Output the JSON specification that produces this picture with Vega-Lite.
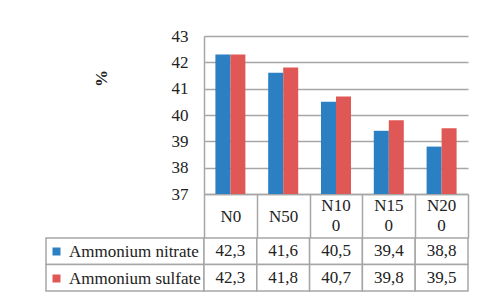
{
  "$schema": "https://vega.github.io/schema/vega-lite/v6.json",
  "padding": {"left": 45, "top": 27, "right": 5, "bottom": 4},
  "background": "white",
  "datasets": {
    "d": [
      {"category": "N0", "series": "Ammonium nitrate", "value": 42.3},
      {"category": "N50", "series": "Ammonium nitrate", "value": 41.6},
      {"category": "N100", "series": "Ammonium nitrate", "value": 40.5},
      {"category": "N150", "series": "Ammonium nitrate", "value": 39.4},
      {"category": "N200", "series": "Ammonium nitrate", "value": 38.8},
      {"category": "N0", "series": "Ammonium sulfate", "value": 42.3},
      {"category": "N50", "series": "Ammonium sulfate", "value": 41.8},
      {"category": "N100", "series": "Ammonium sulfate", "value": 40.7},
      {"category": "N150", "series": "Ammonium sulfate", "value": 39.8},
      {"category": "N200", "series": "Ammonium sulfate", "value": 39.5}
    ]
  },
  "config": {
    "font": "Liberation Serif",
    "view": {"stroke": null},
    "locale": {"number": {"decimal": ",", "thousands": " ", "grouping": [3], "currency": ["", ""]}},
    "text": {"font": "Liberation Serif"}
  },
  "columns": 2,
  "spacing": {"row": 44, "column": 0},
  "bounds": "flush",
  "concat": [
    {
      "width": 158,
      "height": 158,
      "data": {"values": [{}]},
      "mark": {"type": "point", "opacity": 0}
    },
    {
      "width": 264,
      "height": 158,
      "data": {"name": "d"},
      "resolve": {"axis": {"x": "independent"}},
      "layer": [
        {
          "mark": {"type": "bar"},
          "encoding": {
            "x": {
              "field": "category",
              "type": "nominal",
              "sort": ["N0", "N50", "N100", "N150", "N200"],
              "scale": {"paddingInner": 0, "paddingOuter": 0},
              "axis": {
                "title": null,
                "labelAngle": 0,
                "tickBand": "extent",
                "tickSize": 44,
                "tickColor": "#a6a6a6",
                "tickWidth": 1.5,
                "domainColor": "#a6a6a6",
                "domainWidth": 1.5,
                "labelPadding": -22,
                "labelBaseline": "middle",
                "labelFontSize": 17,
                "labelFont": "Liberation Serif",
                "labelColor": "#222222",
                "labelExpr": "length(datum.label) > 3 ? '' : datum.label"
              }
            },
            "xOffset": {
              "field": "series",
              "type": "nominal",
              "scale": {"paddingInner": 0, "paddingOuter": 0.76}
            },
            "y": {
              "field": "value",
              "type": "quantitative",
              "scale": {"domain": [37, 43], "nice": false, "zero": false},
              "axis": {
                "values": [37, 38, 39, 40, 41, 42, 43],
                "grid": true,
                "gridColor": "#a6a6a6",
                "gridWidth": 1.5,
                "ticks": false,
                "domain": true,
                "domainColor": "#a6a6a6",
                "domainWidth": 1.5,
                "labelPadding": 16,
                "labelFontSize": 17,
                "labelFont": "Liberation Serif",
                "labelColor": "#222222",
                "title": "%",
                "titleFont": "Liberation Serif",
                "titleFontSize": 17,
                "titleFontWeight": "bold",
                "titleColor": "#222222",
                "titleBaseline": "alphabetic",
                "titleX": -98,
                "titleY": 42
              }
            },
            "y2": {"datum": 37},
            "color": {
              "field": "series",
              "type": "nominal",
              "scale": {"domain": ["Ammonium nitrate", "Ammonium sulfate"], "range": ["#2a80c2", "#e05856"]},
              "legend": {
                "orient": "none",
                "legendX": 2,
                "legendY": 207,
                "title": null,
                "padding": 0,
                "symbolType": "square",
                "symbolSize": 64,
                "symbolStrokeWidth": 0,
                "labelFont": "Liberation Serif",
                "labelFontSize": 17,
                "labelColor": "#222222",
                "labelOffset": 4,
                "rowPadding": 9
              }
            }
          }
        },
        {
          "mark": {"type": "rule", "opacity": 0},
          "encoding": {
            "x": {
              "field": "category",
              "type": "nominal",
              "sort": ["N0", "N50", "N100", "N150", "N200"],
              "scale": {"paddingInner": 0, "paddingOuter": 0},
              "axis": {
                "orient": "top",
                "offset": -158,
                "title": null,
                "domain": false,
                "ticks": false,
                "tickSize": 0,
                "grid": false,
                "labelAngle": 0,
                "labelPadding": -11,
                "labelBaseline": "middle",
                "labelLineHeight": 20,
                "labelFontSize": 17,
                "labelFont": "Liberation Serif",
                "labelColor": "#222222",
                "labelExpr": "length(datum.label) > 3 ? [slice(datum.label, 0, 3), slice(datum.label, 3)] : ''"
              }
            }
          }
        }
      ]
    },
    {
      "width": 158,
      "height": 53,
      "data": {"name": "d"},
      "transform": [{"filter": "datum.category == 'N0'"}],
      "mark": {"type": "rect", "fill": "white", "stroke": "#a6a6a6", "strokeWidth": 1.5},
      "encoding": {
        "y": {
          "field": "series",
          "type": "nominal",
          "scale": {"paddingInner": 0, "paddingOuter": 0},
          "axis": null
        }
      }
    },
    {
      "width": 264,
      "height": 53,
      "data": {"name": "d"},
      "encoding": {
        "x": {
          "field": "category",
          "type": "nominal",
          "sort": ["N0", "N50", "N100", "N150", "N200"],
          "scale": {"paddingInner": 0, "paddingOuter": 0},
          "axis": null
        },
        "y": {
          "field": "series",
          "type": "nominal",
          "scale": {"paddingInner": 0, "paddingOuter": 0},
          "axis": null
        }
      },
      "layer": [
        {"mark": {"type": "rect", "fill": "white", "stroke": "#a6a6a6", "strokeWidth": 1.5}},
        {
          "mark": {"type": "text", "fontSize": 17, "font": "Liberation Serif", "color": "#222222"},
          "encoding": {"text": {"field": "value", "type": "quantitative", "format": ".1f"}}
        }
      ]
    }
  ]
}
